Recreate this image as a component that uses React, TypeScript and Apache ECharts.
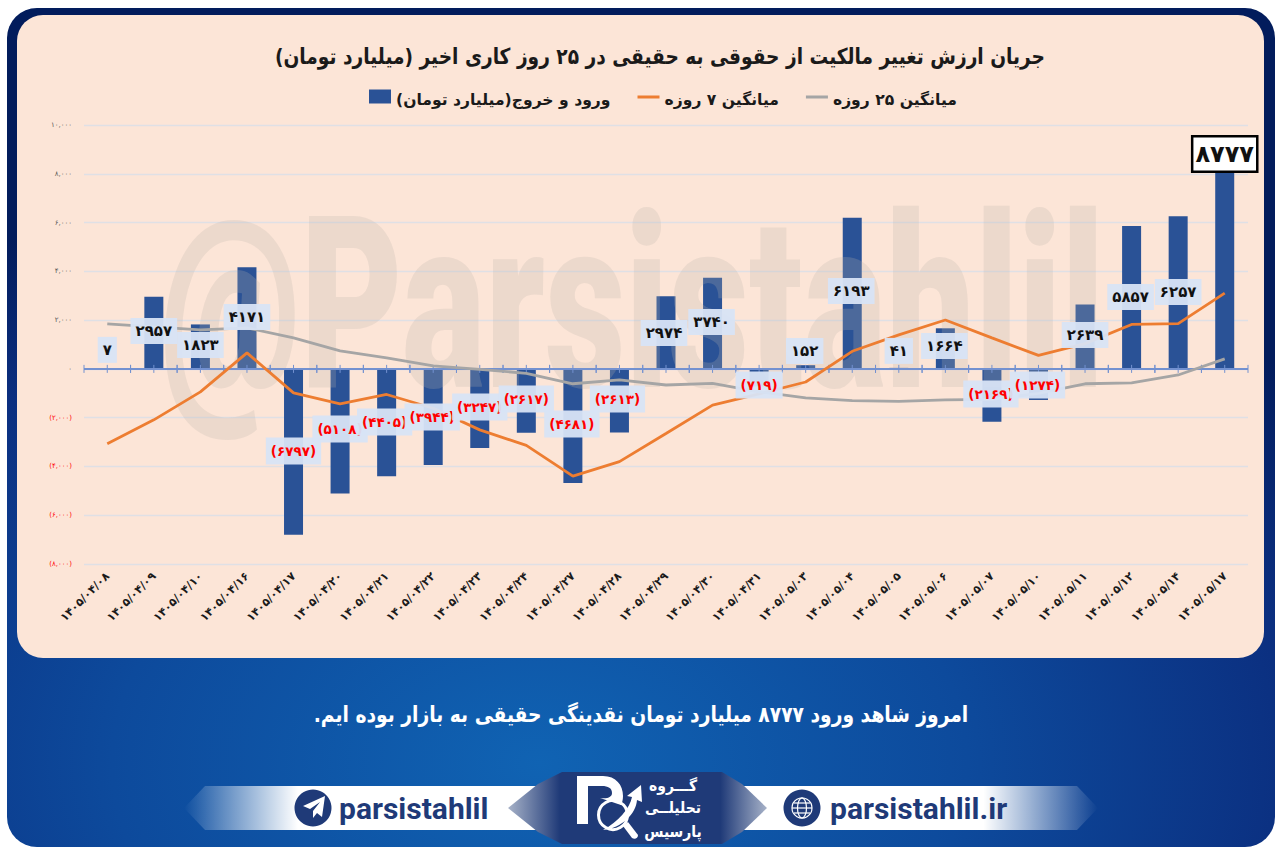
import React, { useEffect, useRef } from "react";
import * as echarts from "echarts";

const categories = [
  "۱۴۰۵/۰۴/۰۸", "۱۴۰۵/۰۴/۰۹", "۱۴۰۵/۰۴/۱۰", "۱۴۰۵/۰۴/۱۶", "۱۴۰۵/۰۴/۱۷", "۱۴۰۵/۰۴/۲۰", "۱۴۰۵/۰۴/۲۱",
  "۱۴۰۵/۰۴/۲۲", "۱۴۰۵/۰۴/۲۳", "۱۴۰۵/۰۴/۲۴", "۱۴۰۵/۰۴/۲۷", "۱۴۰۵/۰۴/۲۸", "۱۴۰۵/۰۴/۲۹", "۱۴۰۵/۰۴/۳۰",
  "۱۴۰۵/۰۴/۳۱", "۱۴۰۵/۰۵/۰۳", "۱۴۰۵/۰۵/۰۴", "۱۴۰۵/۰۵/۰۵", "۱۴۰۵/۰۵/۰۶", "۱۴۰۵/۰۵/۰۷", "۱۴۰۵/۰۵/۱۰",
  "۱۴۰۵/۰۵/۱۱", "۱۴۰۵/۰۵/۱۲", "۱۴۰۵/۰۵/۱۴", "۱۴۰۵/۰۵/۱۷",
];
const flows = [7, 2957, 1823, 4171, -6797, -5108, -4405, -3944, -3247, -2617, -4681, -2613, 2974, 3740, -719, 152, 6193, 41, 1664, -2169, -1274, 2639, 5857, 6257, 8777];
const avg7 = [-3074, -2090, -943, 656, -984, -1434, -1050, -1615, -2501, -3135, -4400, -3802, -2648, -1484, -1023, -538, 721, 1395, 2006, 1272, 555, 1035, 1822, 1859, 3107];
const avg25 = [1844, 1720, 1600, 1680, 1270, 740, 450, 120, -20, -180, -610, -450, -660, -590, -940, -1190, -1300, -1330, -1270, -1250, -1000, -610, -570, -250, 410];

// label box centres (page y) and sideways nudges, kept apart from the values
const labelCentreY = [350, 331, 345, 317, 451, 429, 422, 417, 407, 399, 424, 399, 333, 322, 385, 351, 291, 351, 346, 394, 385, 335, 297, 292, 154];
const labelNudgeX = [0, 0, 0, 0, 0, 0, -2, -1, 0, 0, -1, -2, -2, -1, 0, -1, -1, 0, -1, -1, -1, 0, -1, 0, 0];

const TITLE = "جریان ارزش تغییر مالکیت از حقوقی به حقیقی در ۲۵ روز کاری اخیر (میلیارد تومان)\u200f";
const SERIES_FLOW = "ورود و خروج(میلیارد تومان)\u200f";
const SERIES_7 = "میانگین ۷ روزه";
const SERIES_25 = "میانگین ۲۵ روزه";
const FOOTNOTE = "امروز شاهد ورود ۸۷۷۷ میلیارد تومان نقدینگی حقیقی به بازار بوده ایم.\u200f";
const FONT = "'DejaVu Sans', sans-serif";

const fa = (s: string) => s.replace(/\d/g, (d) => "۰۱۲۳۴۵۶۷۸۹"[Number(d)]);
const grouped = (n: number) => fa(Math.abs(n).toString().replace(/\B(?=(\d{3})+$)/g, ","));

const GRID = { left: 84, right: 1248, top: 125, bottom: 564 };
const ZERO_Y = 369;
const PX_PER_UNIT = (GRID.bottom - GRID.top) / 18000;

const BOX_ICON = "path://M0 0H22V14H0ZM22 21L22 21";
const LINE_ICON = "path://M0 0L0 0M0 6H22V9H0ZM22 21L22 21";
const PLANE = "M325 796 L303 806 L310 809 L320 802 L313 811 L313 818 L317 813 L322 817 Z";
const LOGO_P = "M577 776 L603 776 C616 776 623 785 623 796 C623 800 622 803 621 805 L600 798 C608 799 612 797 612 793 C612 788 608 786 602 786 L588 786 L588 824 L577 824 Z";
const LOGO_SWOOSH = "M603 830 C618 822 630 808 632 797 L627 796 L641 785 L642 802 L637 800 C636 814 622 828 603 830 Z";
const LOGO_HANDLE = "M623 826 L628 822 L638 835 C638 838 635 840 632 838 Z";
echarts.graphic.registerShape("plane", echarts.graphic.extendPath(PLANE, {}));
echarts.graphic.registerShape("logoP", echarts.graphic.extendPath(LOGO_P, {}));
echarts.graphic.registerShape("logoSwoosh", echarts.graphic.extendPath(LOGO_SWOOSH, {}));
echarts.graphic.registerShape("logoHandle", echarts.graphic.extendPath(LOGO_HANDLE, {}));

const lin = (x: number, y: number, x2: number, y2: number, stops: [number, string][]) => ({
  type: "linear", x, y, x2, y2, global: false,
  colorStops: stops.map(([offset, color]) => ({ offset, color })),
});

export default function App() {
  const ref = useRef<HTMLDivElement>(null);
  useEffect(() => {
    const chart = echarts.init(ref.current!, undefined, { renderer: "svg" });
    const NAVY = "#1f3a78";
    const logoText = (text: string, y: number) => ({
      type: "text", z: 11, x: 673, y, scaleX: 0.9,
      style: { text, font: `bold 15.5px ${FONT}`, fill: "#ffffff", textAlign: "center", textVerticalAlign: "middle" },
    });
    const option: any = {
      animation: false,
      backgroundColor: "transparent",
      textStyle: { fontFamily: FONT },
      legend: {
        left: 369, top: 89.5, padding: 0, itemWidth: 22, itemHeight: 21, itemGap: 27,
        data: [
          { name: SERIES_FLOW, icon: BOX_ICON },
          { name: SERIES_7, icon: LINE_ICON },
          { name: SERIES_25, icon: LINE_ICON },
        ],
        textStyle: { fontFamily: FONT, fontSize: 15.6, fontWeight: "bold", color: "#1a1a1a" },
        selectedMode: false,
      },
      grid: { left: GRID.left, top: GRID.top, width: GRID.right - GRID.left, height: GRID.bottom - GRID.top },
      xAxis: {
        type: "category", data: categories, position: "bottom",
        axisLine: { show: false, onZero: false }, axisTick: { show: false }, splitLine: { show: false },
        axisLabel: { interval: 0, rotate: 45, margin: 10, fontFamily: FONT, fontSize: 11.4, fontWeight: "bold", color: "#1a1a1a" },
      },
      yAxis: {
        type: "value", min: -8000, max: 10000, interval: 2000,
        axisLine: { show: false }, axisTick: { show: false },
        splitLine: { lineStyle: { color: "#dfe0e5", width: 1.3 } },
        axisLabel: {
          margin: 12, fontFamily: FONT, fontSize: 7,
          color: (v: any) => (Number(v) < 0 ? "#ff0000" : "#555555"),
          formatter: (v: number) => (v < 0 ? `(${grouped(v)})` : grouped(v)),
        },
      },
      series: [
        {
          name: SERIES_FLOW, type: "bar", data: flows, barWidth: 19, barGap: "-100%", z: 2, silent: true,
          itemStyle: { color: "#2a5296" },
        },
        {
          name: "axis", type: "custom", z: 4, silent: true, clip: false,
          data: categories.map((_, i) => [i, 0]),
          encode: { x: 0, y: 1 },
          renderItem: (_p: any, api: any) => {
            const c = api.coord([api.value(0), 0]);
            const w = api.size([1, 0])[0];
            const style = { stroke: "#7391d0", lineWidth: 1 };
            const tick = (x: number) => ({ type: "line", shape: { x1: x, y1: c[1] - 4, x2: x, y2: c[1] + 4 }, style });
            return {
              type: "group",
              children: [
                { type: "line", shape: { x1: c[0] - w / 2, y1: c[1], x2: c[0] + w / 2, y2: c[1] }, style: { stroke: "#7391d0", lineWidth: 2 } },
                tick(c[0] - w / 2), tick(c[0]), tick(c[0] + w / 2),
              ],
            };
          },
        },
        {
          name: SERIES_7, type: "line", data: avg7, symbol: "none", z: 5, silent: true,
          lineStyle: { color: "#ed7d31", width: 2.8 }, itemStyle: { color: "#ed7d31" },
        },
        {
          name: SERIES_25, type: "line", data: avg25, symbol: "none", z: 5, silent: true,
          lineStyle: { color: "#a5a5a5", width: 2.8 }, itemStyle: { color: "#a5a5a5" },
        },
        {
          name: "labels", type: "bar", barWidth: 19, barGap: "-100%", z: 7, silent: true,
          itemStyle: { color: "transparent" },
          data: flows.map((v, i) => {
            const last = i === flows.length - 1;
            const dy = labelCentreY[i] - (ZERO_Y - (v * PX_PER_UNIT) / 2);
            return {
              value: v,
              label: {
                show: true, position: "inside", offset: [labelNudgeX[i], dy],
                formatter: v < 0 ? `(${fa(String(-v))})` : fa(String(v)),
                fontFamily: FONT, fontWeight: "bold",
                fontSize: last ? 24 : v < 0 ? 13.5 : 15,
                color: v < 0 ? "#ff0000" : "#111111",
                backgroundColor: last ? "#ffffff" : "rgba(216,228,245,0.95)",
                borderColor: last ? "#000000" : "transparent",
                borderWidth: last ? 2.5 : 0,
                padding: last ? [5, 2, 4, 2] : v < 0 ? [7, 5, 6, 5] : [6, 5, 5, 5],
              },
            };
          }),
        },
      ],
      graphic: { elements: [
        { type: "rect", z: -10, shape: { x: 7, y: 8, width: 1268, height: 839, r: 30 }, style: { fill: {
          type: "radial", x: 0.42, y: 0.9, r: 0.75, global: false,
          colorStops: [{ offset: 0, color: "#1063b3" }, { offset: 0.45, color: "#0d4a9c" }, { offset: 0.8, color: "#0b2f80" }, { offset: 1, color: "#021c5c" }],
        } } },
        { type: "rect", z: -9, shape: { x: 17, y: 15, width: 1247, height: 643, r: 26 }, style: { fill: "#fce5d7" } },
        { type: "text", z: 9, x: 660, y: 56, scaleX: 0.846, style: {
          text: TITLE, font: `bold 22px ${FONT}`, fill: "#1a1a1a", textAlign: "center", textVerticalAlign: "middle",
        } },
        { type: "text", z: 3, x: 160, y: 425, scaleY: 1.54, originX: 0, originY: 0, style: {
          text: "@Parsistahlil", font: "900 157px 'Roboto'", fill: "rgba(190,180,172,0.24)",
          textAlign: "left", textVerticalAlign: "bottom",
        } },
        { type: "text", z: 9, x: 641, y: 714, scaleX: 0.85, style: {
          text: FOOTNOTE, font: `bold 22px ${FONT}`, fill: "#ffffff", textAlign: "center", textVerticalAlign: "middle",
        } },
        { type: "polygon", z: 8, shape: { points: [[184, 808], [205, 786], [540, 786], [540, 830], [205, 830]] },
          style: { fill: lin(0, 0, 1, 0, [[0, "rgba(255,255,255,0)"], [0.32, "#ffffff"], [1, "#ffffff"]]) } },
        { type: "polygon", z: 8, shape: { points: [[740, 786], [1077, 786], [1098, 808], [1077, 830], [740, 830]] },
          style: { fill: lin(0, 0, 1, 0, [[0, "#ffffff"], [0.68, "#ffffff"], [1, "rgba(255,255,255,0)"]]) } },
        { type: "polygon", z: 9, shape: { points: [[508, 808], [538, 784], [562, 772], [722, 772], [742, 784], [767, 808], [742, 832], [722, 844], [562, 844], [538, 832]] },
          style: { fill: lin(0, 0, 1, 0, [[0, "#a7b2c8"], [0.2, NAVY], [0.82, NAVY], [1, "#a7b2c8"]]) } },
        { type: "circle", z: 10, shape: { cx: 313, cy: 808, r: 18.5 }, style: { fill: NAVY } },
        { type: "plane", z: 11, style: { fill: "#ffffff" } },
        { type: "text", z: 10, x: 339, y: 808, style: { text: "parsistahlil", font: "bold 30px 'Roboto'", fill: NAVY, textAlign: "left", textVerticalAlign: "middle" } },
        { type: "circle", z: 10, shape: { cx: 802, cy: 808, r: 18.5 }, style: { fill: NAVY } },
        { type: "circle", z: 11, shape: { cx: 802, cy: 808, r: 10 }, style: { fill: "transparent", stroke: "#ffffff", lineWidth: 1.2 } },
        { type: "ellipse", z: 11, shape: { cx: 802, cy: 808, rx: 4.5, ry: 10 }, style: { fill: "transparent", stroke: "#ffffff", lineWidth: 1.2 } },
        { type: "line", z: 11, shape: { x1: 792, y1: 808, x2: 812, y2: 808 }, style: { stroke: "#ffffff", lineWidth: 1.2 } },
        { type: "line", z: 11, shape: { x1: 794, y1: 803, x2: 810, y2: 803 }, style: { stroke: "#ffffff", lineWidth: 1.2 } },
        { type: "line", z: 11, shape: { x1: 794, y1: 813, x2: 810, y2: 813 }, style: { stroke: "#ffffff", lineWidth: 1.2 } },
        { type: "text", z: 10, x: 830, y: 808, style: { text: "parsistahlil.ir", font: "bold 30px 'Roboto'", fill: NAVY, textAlign: "left", textVerticalAlign: "middle" } },
        { type: "logoP", z: 11, style: { fill: "#ffffff" } },
        { type: "circle", z: 11, shape: { cx: 613, cy: 815, r: 14.5 }, style: { fill: "transparent", stroke: "#ffffff", lineWidth: 3 } },
        { type: "logoSwoosh", z: 12, style: { fill: "#ffffff" } },
        { type: "logoHandle", z: 11, style: { fill: "#ffffff" } },
        logoText("گـــروه", 785),
        logoText("تحلیلــی", 807),
        logoText("پارسیس", 831),
      ] },
    };
    chart.setOption(option);
    return () => chart.dispose();
  }, []);
  return <div ref={ref} style={{ position: "fixed", left: 0, top: 0, width: 1280, height: 858, background: "#ffffff" }} />;
}
